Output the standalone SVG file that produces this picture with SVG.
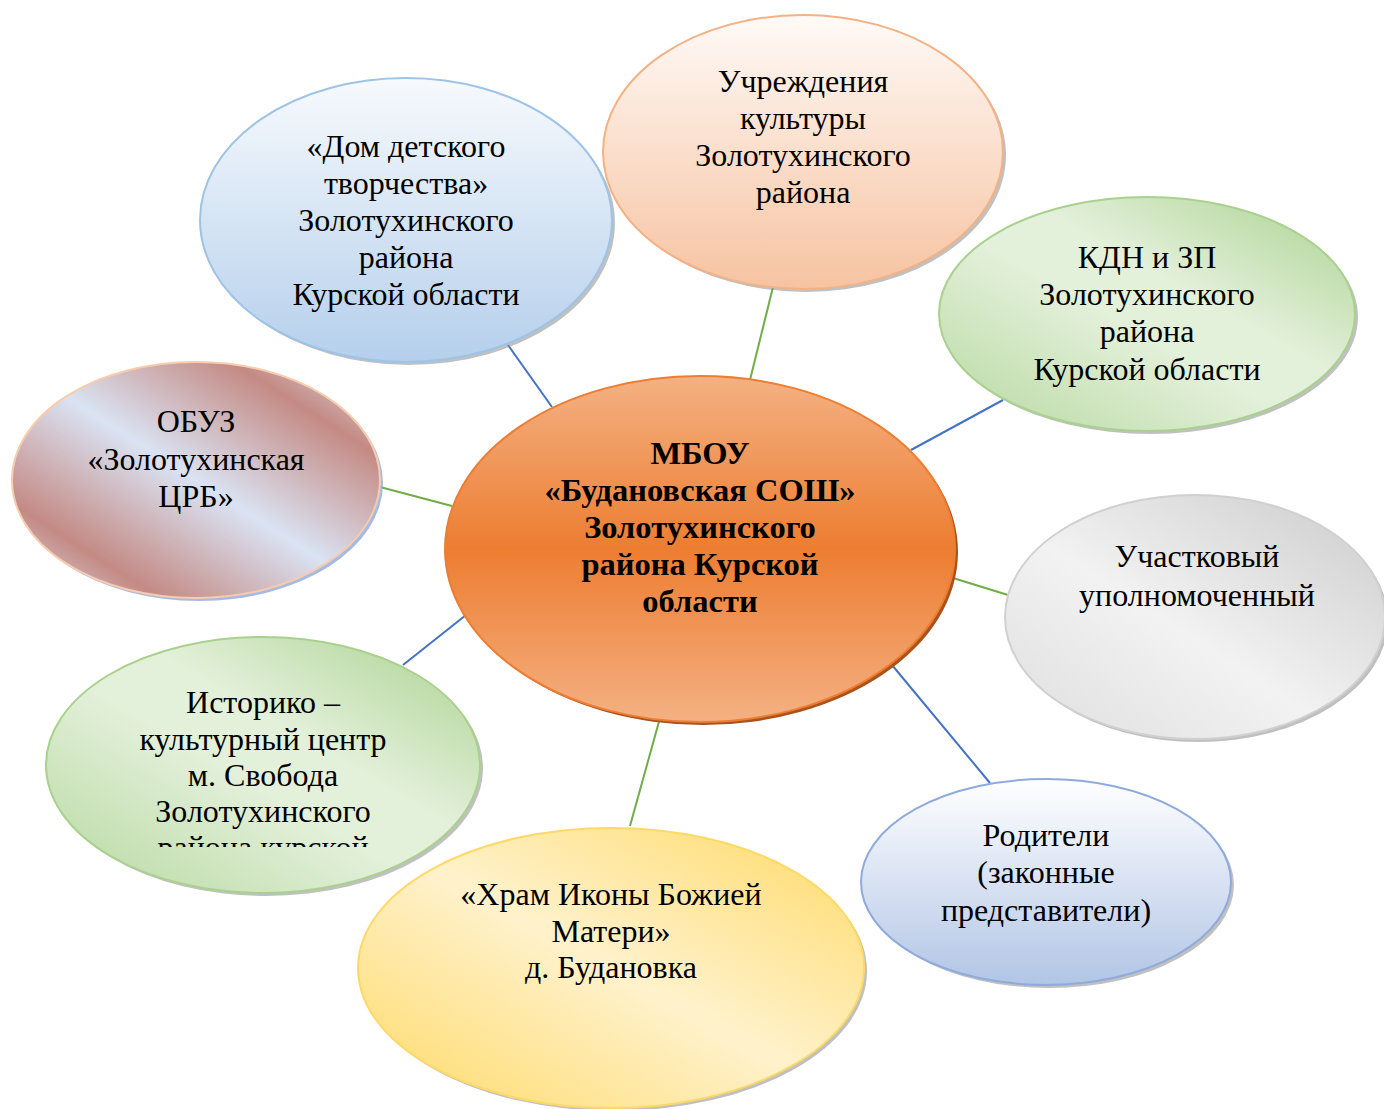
<svg xmlns="http://www.w3.org/2000/svg" width="1384" height="1109" viewBox="0 0 1384 1109">
<style>
.t{font-family:"Liberation Serif","Times New Roman",serif;font-size:32px;fill:#000;text-anchor:middle}
.b{font-family:"Liberation Serif","Times New Roman",serif;font-size:32.5px;font-weight:bold;fill:#000;text-anchor:middle}
.sh{fill:#8c8c8c;opacity:0.55}
.lb{stroke:#4472c4;stroke-width:2;fill:none}
.lg{stroke:#70ad47;stroke-width:2;fill:none}
</style>
<defs>
<linearGradient id="gBlue" x1="0" y1="0" x2="0" y2="1"><stop offset="0" stop-color="#f7fafd"/><stop offset="1" stop-color="#b5cfec"/></linearGradient>
<linearGradient id="gPeach" x1="0" y1="0" x2="0" y2="1"><stop offset="0" stop-color="#fffaf7"/><stop offset="1" stop-color="#f6c3a1"/></linearGradient>
<linearGradient id="gGreen" x1="0" y1="1" x2="1" y2="0"><stop offset="0" stop-color="#b6d89f"/><stop offset="0.45" stop-color="#e3f0da"/><stop offset="0.6" stop-color="#e3f0da"/><stop offset="1" stop-color="#a9d18e"/></linearGradient>
<linearGradient id="gRed" x1="0" y1="1" x2="1" y2="0"><stop offset="0" stop-color="#dae3f3"/><stop offset="0.2" stop-color="#c48a84"/><stop offset="0.5" stop-color="#dae3f3"/><stop offset="0.8" stop-color="#c48a84"/><stop offset="1" stop-color="#dae3f3"/></linearGradient>
<linearGradient id="gGray" x1="0" y1="1" x2="1" y2="0"><stop offset="0" stop-color="#dedede"/><stop offset="0.45" stop-color="#f2f2f2"/><stop offset="1" stop-color="#cbcbcb"/></linearGradient>
<linearGradient id="gYellow" x1="0" y1="1" x2="1" y2="0"><stop offset="0" stop-color="#ffd966"/><stop offset="0.5" stop-color="#fff2cc"/><stop offset="1" stop-color="#ffd966"/></linearGradient>
<linearGradient id="gRod" x1="0" y1="0" x2="0" y2="1"><stop offset="0" stop-color="#ffffff"/><stop offset="1" stop-color="#b2c5e6"/></linearGradient>
<linearGradient id="gCenter" x1="0" y1="0" x2="0" y2="1"><stop offset="0" stop-color="#f4b183"/><stop offset="0.5" stop-color="#ed7d31"/><stop offset="1" stop-color="#f4b183"/></linearGradient>
<clipPath id="clipIst"><rect x="0" y="600" width="600" height="247"/></clipPath>
</defs>

<g id="connectors">
<line class="lb" x1="508" y1="345" x2="552" y2="407"/>
<line class="lg" x1="773" y1="287" x2="750" y2="380"/>
<line class="lb" x1="1003" y1="400" x2="911" y2="450"/>
<line class="lg" x1="380" y1="487" x2="452" y2="506"/>
<line class="lg" x1="953" y1="578" x2="1008" y2="595"/>
<line class="lb" x1="892" y1="665" x2="990" y2="783"/>
<line class="lg" x1="660" y1="718" x2="630" y2="826"/>
<line class="lb" x1="466" y1="615" x2="403" y2="665"/>
</g>

<g id="center">
<ellipse cx="703" cy="552" rx="255" ry="173" fill="#a9521b"/>
<ellipse cx="700" cy="549" rx="255" ry="173" fill="url(#gCenter)" stroke="#ed7d31" stroke-width="2"/>
<text class="b" x="700" y="464">МБОУ</text>
<text class="b" x="700" y="501">«Будановская СОШ»</text>
<text class="b" x="700" y="538">Золотухинского</text>
<text class="b" x="700" y="575">района Курской</text>
<text class="b" x="700" y="612">области</text>
</g>

<g id="dom">
<ellipse class="sh" cx="409" cy="223" rx="206" ry="142"/>
<ellipse cx="406" cy="220" rx="206" ry="142" fill="url(#gBlue)" stroke="#9dc3e6" stroke-width="2"/>
<text class="t" x="406" y="157">«Дом детского</text>
<text class="t" x="406" y="194">творчества»</text>
<text class="t" x="406" y="231">Золотухинского</text>
<text class="t" x="406" y="268">района</text>
<text class="t" x="406" y="305">Курской области</text>
</g>

<g id="culture">
<ellipse class="sh" cx="806" cy="155" rx="200" ry="137"/>
<ellipse cx="803" cy="152" rx="200" ry="137" fill="url(#gPeach)" stroke="#f4b183" stroke-width="2"/>
<text class="t" x="803" y="92">Учреждения</text>
<text class="t" x="803" y="129">культуры</text>
<text class="t" x="803" y="166">Золотухинского</text>
<text class="t" x="803" y="203">района</text>
</g>

<g id="kdn">
<ellipse class="sh" cx="1150" cy="317" rx="208" ry="117"/>
<ellipse cx="1147" cy="314" rx="208" ry="117" fill="url(#gGreen)" stroke="#a9d18e" stroke-width="2"/>
<text class="t" x="1147" y="268">КДН и ЗП</text>
<text class="t" x="1147" y="305">Золотухинского</text>
<text class="t" x="1147" y="342">района</text>
<text class="t" x="1147" y="380">Курской области</text>
</g>

<g id="obuz">
<ellipse cx="199" cy="483" rx="184" ry="118" fill="#8eaadb" opacity="0.8"/>
<ellipse cx="196" cy="480" rx="184" ry="118" fill="url(#gRed)" stroke="#f8cbad" stroke-width="2"/>
<text class="t" x="196" y="432">ОБУЗ</text>
<text class="t" x="196" y="470">«Золотухинская</text>
<text class="t" x="196" y="507">ЦРБ»</text>
</g>

<g id="uchastk">
<ellipse class="sh" cx="1198" cy="620" rx="190" ry="122"/>
<ellipse cx="1195" cy="617" rx="190" ry="122" fill="url(#gGray)" stroke="#d0d0d0" stroke-width="2"/>
<text class="t" x="1197" y="567">Участковый</text>
<text class="t" x="1197" y="606">уполномоченный</text>
</g>

<g id="istoriko">
<ellipse class="sh" cx="266" cy="768" rx="217" ry="128"/>
<ellipse cx="263" cy="765" rx="217" ry="128" fill="url(#gGreen)" stroke="#a9d18e" stroke-width="2"/>
<text class="t" x="263" y="713">Историко –</text>
<text class="t" x="263" y="750">культурный центр</text>
<text class="t" x="263" y="786">м. Свобода</text>
<text class="t" x="263" y="822">Золотухинского</text>
<text class="t" x="263" y="858" clip-path="url(#clipIst)">района курской</text>
</g>

<g id="hram">
<ellipse class="sh" cx="614" cy="971" rx="253" ry="140"/>
<ellipse cx="611" cy="968" rx="253" ry="140" fill="url(#gYellow)" stroke="#ffd966" stroke-width="2"/>
<text class="t" x="611" y="905">«Храм Иконы Божией</text>
<text class="t" x="611" y="942">Матери»</text>
<text class="t" x="611" y="978">д. Будановка</text>
</g>

<g id="roditeli">
<ellipse class="sh" cx="1049" cy="885" rx="185" ry="103"/>
<ellipse cx="1046" cy="882" rx="185" ry="103" fill="url(#gRod)" stroke="#8faadc" stroke-width="2"/>
<text class="t" x="1046" y="846">Родители</text>
<text class="t" x="1046" y="883">(законные</text>
<text class="t" x="1046" y="921">представители)</text>
</g>
</svg>
